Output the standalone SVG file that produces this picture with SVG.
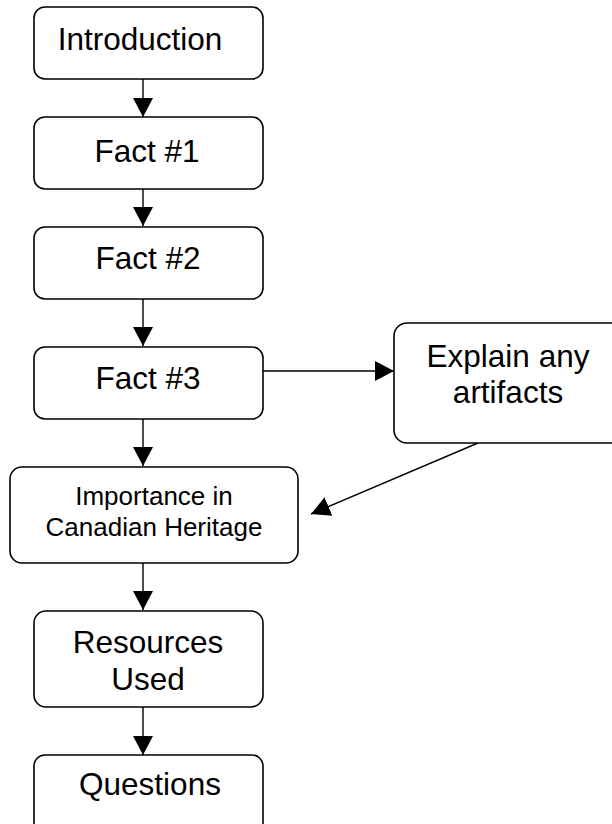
<svg xmlns="http://www.w3.org/2000/svg" width="612" height="824" viewBox="0 0 612 824">
<defs>
<style>
.box{fill:#fff;stroke:#000;stroke-width:1.6}
.t{font-family:"Liberation Sans",Arial,sans-serif;font-size:31.5px;fill:#000;text-anchor:middle}
.s{font-size:26px}
.c{stroke:#000;stroke-width:1.4;fill:none;marker-end:url(#ah)}
</style>
<marker id="ah" markerUnits="userSpaceOnUse" markerWidth="20" markerHeight="20" refX="19" refY="10" orient="auto">
<path d="M0,0 L19,10 L0,20 Z" fill="#000"/>
</marker>
</defs>
<rect width="612" height="824" fill="#fff"/>
<g id="connectors">
<line class="c" x1="143" y1="79" x2="143" y2="117"/>
<line class="c" x1="143" y1="189" x2="143" y2="226"/>
<line class="c" x1="143" y1="299" x2="143" y2="346"/>
<line class="c" x1="143" y1="419" x2="143" y2="466"/>
<line class="c" x1="143" y1="563" x2="143" y2="610"/>
<line class="c" x1="143" y1="707" x2="143" y2="755"/>
<line class="c" x1="263" y1="371" x2="394" y2="371"/>
<line class="c" x1="478" y1="443" x2="311" y2="514"/>
</g>
<g id="introduction">
<rect class="box" x="34" y="7" width="229" height="72" rx="11"/>
<text class="t" x="140" y="50">Introduction</text>
</g>
<g id="fact1">
<rect class="box" x="34" y="117" width="229" height="72" rx="11"/>
<text class="t" x="147" y="162">Fact #1</text>
</g>
<g id="fact2">
<rect class="box" x="34" y="227" width="229" height="72" rx="11"/>
<text class="t" x="148" y="269">Fact #2</text>
</g>
<g id="fact3">
<rect class="box" x="34" y="347" width="229" height="72" rx="11"/>
<text class="t" x="148" y="389">Fact #3</text>
</g>
<g id="explain">
<rect class="box" x="394" y="323" width="230" height="120" rx="13"/>
<text class="t" x="508" y="367">Explain any</text>
<text class="t" x="508" y="403">artifacts</text>
</g>
<g id="importance">
<rect class="box" x="10" y="467" width="288" height="96" rx="12"/>
<text class="t s" x="154" y="505">Importance in</text>
<text class="t s" x="154" y="536">Canadian Heritage</text>
</g>
<g id="resources">
<rect class="box" x="34" y="611" width="229" height="96" rx="12"/>
<text class="t" x="148" y="653">Resources</text>
<text class="t" x="148" y="690">Used</text>
</g>
<g id="questions">
<rect class="box" x="34" y="755" width="229" height="80" rx="11"/>
<text class="t" x="150" y="795">Questions</text>
</g>
</svg>
